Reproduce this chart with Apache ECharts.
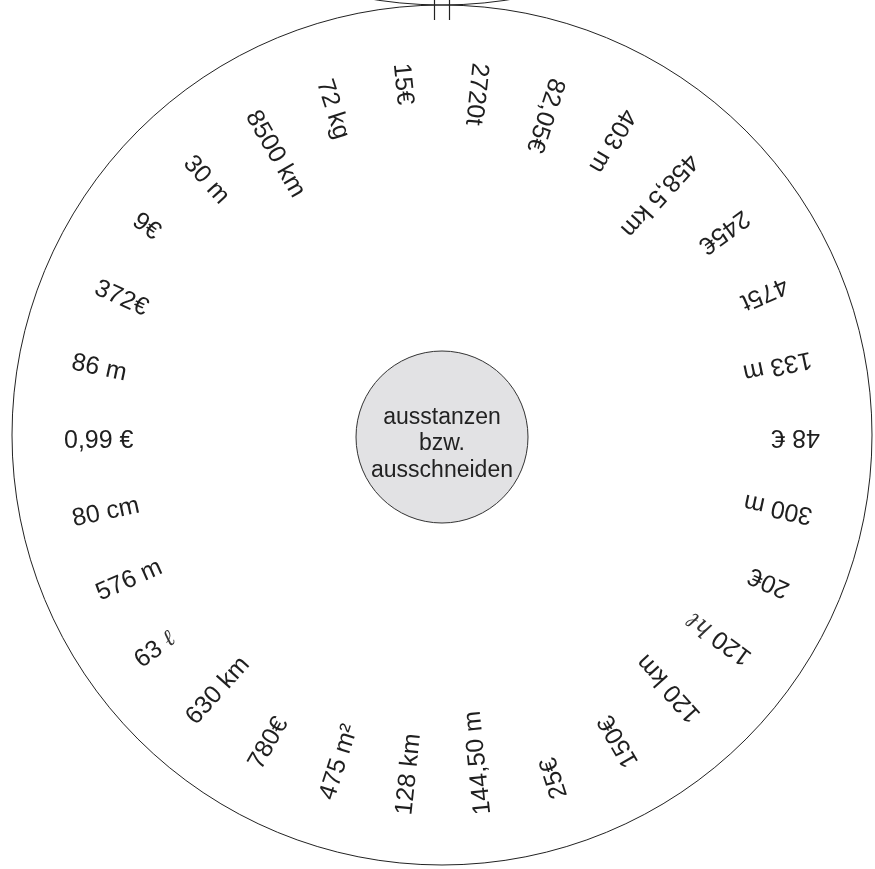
<!DOCTYPE html>
<html>
<head>
<meta charset="utf-8">
<script src="https://cdn.jsdelivr.net/npm/echarts@6/dist/echarts.min.js"></script>
<style>
html,body{margin:0;padding:0;background:#fff;}
#chart{width:875px;height:869px;}
</style>
</head>
<body>
<div id="chart"></div>
<script>
// Labels around the disc, clockwise starting just right of the top
const labels = ['2720t','82,05€','403 m','458,5 km','245€','475t','133 m','48 €','300 m','20€',
  '120 {s|hℓ}','120 km','150€','25€','144,50 m','128 km','475 m²','780€','630 km','63 {s|ℓ}',
  '576 m','80 cm','0,99 €','86 m','372€','9€','30 m','8500 km','72 kg','15€'];
const ringValues = labels.map(() => 1);
const centerLines = ['ausstanzen', 'bzw.', 'ausschneiden'];

const chart = echarts.init(document.getElementById('chart'), null, {renderer: 'canvas'});

const option = {
  animation: false,
  backgroundColor: '#ffffff',
  polar: {center: [442, 439], radius: 378},
  angleAxis: {
    type: 'category', data: labels, startAngle: 90, clockwise: true,
    axisLine: {show: false}, axisTick: {show: false}, axisLabel: {show: false},
    splitLine: {show: false}, splitArea: {show: false}
  },
  radiusAxis: {
    type: 'value', min: 0, max: 1,
    axisLine: {show: false}, axisTick: {show: false}, axisLabel: {show: false},
    splitLine: {show: false}, splitArea: {show: false}
  },
  graphic: [
    {type: 'circle', shape: {cx: 442, cy: -425, r: 430}, style: {fill: 'none', stroke: '#222', lineWidth: 1}, z: 1},
    {type: 'circle', shape: {cx: 442, cy: 435, r: 430}, style: {fill: 'none', stroke: '#222', lineWidth: 1}, z: 1},
    {type: 'line', shape: {x1: 434.5, y1: 0, x2: 434.5, y2: 20}, style: {stroke: '#222', lineWidth: 1.2}, z: 2},
    {type: 'line', shape: {x1: 449.5, y1: 0, x2: 449.5, y2: 20}, style: {stroke: '#222', lineWidth: 1.2}, z: 2},
    {type: 'circle', shape: {cx: 442, cy: 437, r: 86}, style: {fill: '#e2e2e4', stroke: '#333', lineWidth: 1}, z: 2},
    {type: 'text', z: 3, style: {
      text: centerLines.join('\n'), x: 442, y: 444,
      font: '23px "Liberation Sans", Arial, sans-serif', fill: '#222',
      textAlign: 'center', textVerticalAlign: 'middle', lineHeight: 26.5
    }}
  ],
  series: [{
    type: 'custom',
    coordinateSystem: 'polar',
    data: ringValues.map((v, i) => [v, i]),
    encode: {radius: 0, angle: 1},
    renderItem: function (params, api) {
      const cs = params.coordSys;
      const p = api.coord([api.value(0), api.value(1)]);
      const dx = p[0] - cs.cx, dy = p[1] - cs.cy;
      const rot = Math.atan2(dy, -dx);
      return {
        type: 'text',
        x: p[0], y: p[1], rotation: rot,
        style: {
          text: labels[params.dataIndex], x: 0, y: 2,
          font: '25px "Liberation Sans", Arial, sans-serif',
          fill: '#1f1f1f', align: 'left', verticalAlign: 'middle',
          rich: {
            s: {fontFamily: '"DejaVu Serif", serif', fontStyle: 'italic', fontSize: 23, fill: '#333'}
          }
        }
      };
    }
  }]
};
chart.setOption(option);
</script>
</body>
</html>
